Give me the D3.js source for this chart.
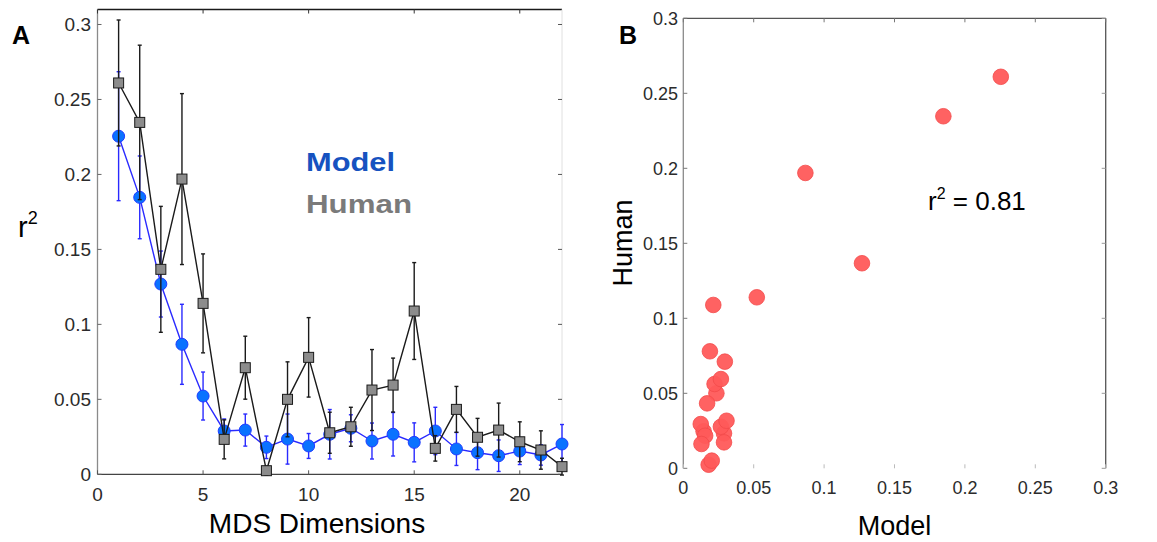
<!DOCTYPE html>
<html>
<head>
<meta charset="utf-8">
<script src="https://cdn.jsdelivr.net/npm/d3@7"></script>
<style>
  html, body { margin: 0; padding: 0; background: #fff; }
  svg { display: block; }
  text { font-family: "Liberation Sans", Arial, sans-serif; }
</style>
</head>
<body>
<svg id="chart" width="1157" height="542"></svg>
<script>
// ---- data ----
const dims = [1,2,3,4,5,6,7,8,9,10,11,12,13,14,15,16,17,18,19,20,21,22];
const modelMean = [0.2255,0.1847,0.1269,0.0867,0.0522,0.0289,0.0295,0.0180,0.0235,0.0189,0.0267,0.0307,0.0222,0.0267,0.0213,0.0289,0.0169,0.0144,0.0124,0.0155,0.0129,0.0202];
const modelErr  = [0.0430,0.0276,0.0220,0.0267,0.0160,0.0080,0.0107,0.0075,0.0167,0.0083,0.0165,0.0090,0.0120,0.0145,0.0130,0.0158,0.0110,0.0113,0.0105,0.0090,0.0068,0.0130];
const humanMean = [0.2610,0.2347,0.1367,0.1969,0.1140,0.0233,0.0711,0.0024,0.0500,0.0780,0.0277,0.0317,0.0562,0.0595,0.1089,0.0173,0.0433,0.0247,0.0295,0.0217,0.0162,0.0051];
const humanErr  = [0.0420,0.0515,0.0420,0.0570,0.0330,0.0130,0.0210,0.0030,0.0250,0.0265,0.0137,0.0130,0.0270,0.0180,0.0323,0.0085,0.0153,0.0126,0.0180,0.0133,0.0128,0.0056];
const aXTicks = [0,5,10,15,20];
const aYTicks = [0,0.05,0.1,0.15,0.2,0.25,0.3];
const bTicks  = [0,0.05,0.1,0.15,0.2,0.25,0.3];
const legendLabels = ["Model","Human"];
const r2Text = "0.81";

const svg = d3.select("#chart");
const fmt = v => (v === 0 ? "0" : String(+v.toFixed(2)));
const tickColor = "#2b2b2b";

// ================= Panel A =================
const ax = d3.scaleLinear().domain([0,22]).range([97.5,562]);
const ay = d3.scaleLinear().domain([0,0.31]).range([474.3,9.5]);
const A = svg.append("g");

// box
A.append("line").attr("x1",ax(0)).attr("x2",ax(22)).attr("y1",ay(0.31)).attr("y2",ay(0.31)).attr("stroke","#1a1a1a").attr("stroke-width",1.3);
A.append("line").attr("x1",ax(22)).attr("x2",ax(22)).attr("y1",ay(0.31)).attr("y2",ay(0)).attr("stroke","#e0e0e0").attr("stroke-width",1);
A.append("line").attr("x1",ax(0)).attr("x2",ax(0)).attr("y1",ay(0.31)).attr("y2",ay(0)).attr("stroke","#8a8a8a").attr("stroke-width",1.3);
A.append("line").attr("x1",ax(0)).attr("x2",ax(22)).attr("y1",ay(0)).attr("y2",ay(0)).attr("stroke","#444").attr("stroke-width",1.3);

// ticks
aYTicks.forEach(v => {
  A.append("line").attr("x1",ax(0)).attr("x2",ax(0)+4).attr("y1",ay(v)).attr("y2",ay(v)).attr("stroke","#666");
  A.append("line").attr("x1",ax(22)).attr("x2",ax(22)-4).attr("y1",ay(v)).attr("y2",ay(v)).attr("stroke","#555");
  A.append("text").attr("x",91).attr("y",ay(v)+6.5).attr("text-anchor","end")
    .attr("font-size",19).attr("fill",tickColor).text(fmt(v));
});
aXTicks.forEach(v => {
  A.append("line").attr("x1",ax(v)).attr("x2",ax(v)).attr("y1",ay(0.31)).attr("y2",ay(0.31)+4).attr("stroke","#333");
  A.append("line").attr("x1",ax(v)).attr("x2",ax(v)).attr("y1",ay(0)).attr("y2",ay(0)-4).attr("stroke","#555");
  A.append("text").attr("x",ax(v)).attr("y",501).attr("text-anchor","middle")
    .attr("font-size",19).attr("fill",tickColor).text(v);
});

// axis labels
A.append("text").attr("x",317).attr("y",533).attr("text-anchor","middle").attr("font-size",28).attr("fill","#000").text("MDS Dimensions");
const r2a = A.append("text").attr("x",18).attr("y",237).attr("font-size",29).attr("fill","#000");
r2a.append("tspan").text("r");
r2a.append("tspan").attr("font-size",18).attr("dy",-13).text("2");

// panel label
A.append("text").attr("x",12).attr("y",44).attr("font-size",25).attr("font-weight","bold").attr("fill","#000").text("A");

// legend
A.append("text").attr("x",306).attr("y",171).attr("font-family","Lato, sans-serif").attr("font-weight",900)
  .attr("font-size",25).attr("fill","#1652c0").attr("textLength",89).attr("lengthAdjust","spacingAndGlyphs").text(legendLabels[0]);
A.append("text").attr("x",306).attr("y",213).attr("font-family","Lato, sans-serif").attr("font-weight",900)
  .attr("font-size",25).attr("fill","#7a7a7a").attr("textLength",106).attr("lengthAdjust","spacingAndGlyphs").text(legendLabels[1]);

function drawSeries(means, errs, lineColor, errColor, marker) {
  const g = A.append("g");
  const pts = dims.map((d,i) => ({x:d, y:means[i], e:errs[i]}));
  g.append("path").datum(pts)
    .attr("d", d3.line().x(d=>ax(d.x)).y(d=>ay(d.y)))
    .attr("fill","none").attr("stroke",lineColor).attr("stroke-width",1.4);
  const eb = g.selectAll(".eb").data(pts).enter().append("g");
  eb.append("line").attr("x1",d=>ax(d.x)).attr("x2",d=>ax(d.x))
    .attr("y1",d=>ay(d.y-d.e)).attr("y2",d=>ay(d.y+d.e)).attr("stroke",errColor).attr("stroke-width",1.4);
  eb.append("line").attr("x1",d=>ax(d.x)-2).attr("x2",d=>ax(d.x)+2)
    .attr("y1",d=>ay(d.y+d.e)).attr("y2",d=>ay(d.y+d.e)).attr("stroke",errColor).attr("stroke-width",1.4);
  eb.append("line").attr("x1",d=>ax(d.x)-2).attr("x2",d=>ax(d.x)+2)
    .attr("y1",d=>ay(d.y-d.e)).attr("y2",d=>ay(d.y-d.e)).attr("stroke",errColor).attr("stroke-width",1.4);
  if (marker === "circle") {
    g.selectAll(".m").data(pts).enter().append("circle")
      .attr("cx",d=>ax(d.x)).attr("cy",d=>ay(d.y)).attr("r",6)
      .attr("fill","#0a72ff").attr("stroke","#1f3cff").attr("stroke-width",1);
  } else {
    g.selectAll(".m").data(pts).enter().append("rect")
      .attr("x",d=>ax(d.x)-5).attr("y",d=>ay(d.y)-5).attr("width",10).attr("height",10)
      .attr("fill","#8c8c8c").attr("stroke","#1a1a1a").attr("stroke-width",1);
  }
}
drawSeries(modelMean, modelErr, "#2a2aff", "#2a2aff", "circle");
drawSeries(humanMean, humanErr, "#1a1a1a", "#1a1a1a", "square");

// ================= Panel B =================
const bx = d3.scaleLinear().domain([0,0.3]).range([683.3,1105.7]);
const by = d3.scaleLinear().domain([0,0.3]).range([468.3,18.3]);
const B = svg.append("g");

B.append("line").attr("x1",bx(0)).attr("x2",bx(0.3)).attr("y1",by(0.3)).attr("y2",by(0.3)).attr("stroke","#555").attr("stroke-width",1.3);
B.append("line").attr("x1",bx(0.3)).attr("x2",bx(0.3)).attr("y1",by(0.3)).attr("y2",by(0)).attr("stroke","#555").attr("stroke-width",1.3);
B.append("line").attr("x1",bx(0)).attr("x2",bx(0)).attr("y1",by(0.3)).attr("y2",by(0)).attr("stroke","#8a8a8a").attr("stroke-width",1.3);

bTicks.forEach(v => {
  B.append("line").attr("x1",bx(0)).attr("x2",bx(0)+4).attr("y1",by(v)).attr("y2",by(v)).attr("stroke","#777");
  B.append("line").attr("x1",bx(0.3)).attr("x2",bx(0.3)-4).attr("y1",by(v)).attr("y2",by(v)).attr("stroke","#999");
  B.append("line").attr("x1",bx(v)).attr("x2",bx(v)).attr("y1",by(0.3)).attr("y2",by(0.3)+4).attr("stroke","#777");
  B.append("line").attr("x1",bx(v)).attr("x2",bx(v)).attr("y1",by(0)).attr("y2",by(0)-4).attr("stroke","#bbb");
  B.append("text").attr("x",678).attr("y",by(v)+6.5).attr("text-anchor","end")
    .attr("font-size",18).attr("fill",tickColor).text(fmt(v));
  B.append("text").attr("x",bx(v)).attr("y",494).attr("text-anchor","middle")
    .attr("font-size",18).attr("fill",tickColor).text(fmt(v));
});

B.append("text").attr("x",894.5).attr("y",535).attr("text-anchor","middle").attr("font-size",27).attr("fill","#000").text("Model");
B.append("text").attr("transform","translate(632,243) rotate(-90)").attr("text-anchor","middle").attr("font-size",27).attr("fill","#000").text("Human");
B.append("text").attr("x",619).attr("y",44).attr("font-size",25).attr("font-weight","bold").attr("fill","#000").text("B");

const r2b = B.append("text").attr("x",928).attr("y",210).attr("font-size",26).attr("fill","#000");
r2b.append("tspan").text("r");
r2b.append("tspan").attr("font-size",16).attr("dy",-11).text("2");
r2b.append("tspan").attr("dy",11).text(" = " + r2Text);

const scatter = dims.map((d,i) => ({x:modelMean[i], y:humanMean[i]}));
B.selectAll(".pt").data(scatter).enter().append("circle")
  .attr("cx",d=>bx(d.x)).attr("cy",d=>by(d.y)).attr("r",7.8)
  .attr("fill","#ff5a5a").attr("fill-opacity",0.95).attr("stroke","#f24a4a").attr("stroke-width",0.8);
</script>
</body>
</html>
